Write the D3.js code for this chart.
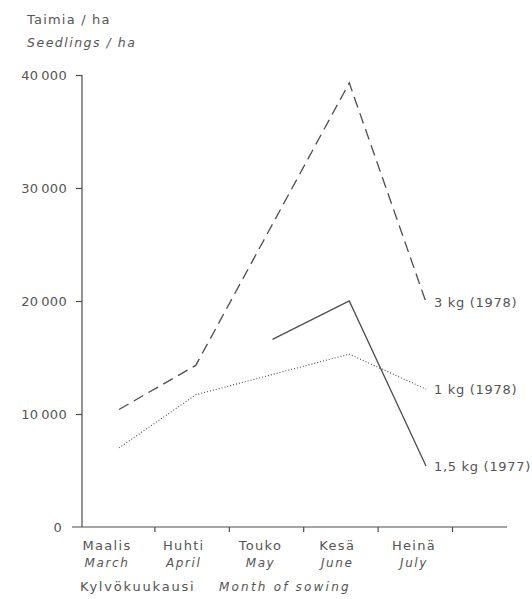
<!DOCTYPE html>
<html>
<head>
<meta charset="utf-8">
<script src="https://cdn.jsdelivr.net/npm/d3@7"></script>
<style>
  body { margin: 0; background: #fff; }
  svg text { font-family: "DejaVu Sans", sans-serif; fill: #555; }
</style>
</head>
<body>
<svg id="chart"></svg>
<script>
// Seedlings per hectare by month of sowing, three seed amounts

const monthsFi = ["Maalis", "Huhti", "Touko", "Kesä", "Heinä"];
const monthsEn = ["March", "April", "May", "June", "July"];
const yTicks = [0, 10000, 20000, 30000, 40000];

// null = not measured that month
const kg3_1978 = [10400, 14300, null, 39300, 19900];
const kg1_1978 = [7000, 11700, null, 15300, 12200];
const kg15_1977 = [null, null, 16600, 20000, 5400];

const series = [
    { label: "3 kg (1978)", values: kg3_1978, dash: "11,6" },
    { label: "1 kg (1978)", values: kg1_1978, dash: "1,2" },
    { label: "1,5 kg (1977)", values: kg15_1977, dash: null }
];

const width = 532, height = 599;
const ink = "#4d4d4d";

const svg = d3.select("#chart")
    .attr("width", width)
    .attr("height", height);

const y = d3.scaleLinear().domain([0, 40000]).range([527, 75]);
const x = d3.scalePoint().domain(monthsEn).range([119, 426]);
// month boundaries for the axis ticks
const xBand = d3.scaleLinear().domain([0, 5]).range([80, 452]);

const fmt = v => v === 0 ? "0" : d3.format(",")(v).replace(",", "\u2009");

// y axis
const yAxis = svg.append("g")
    .attr("transform", "translate(82,0)")
    .call(d3.axisLeft(y).tickValues(yTicks).tickFormat(fmt).tickSize(6).tickPadding(9));
yAxis.select(".domain").attr("d", `M0,${y(40000)}V${y(0)}`);
yAxis.selectAll("line, path").attr("stroke", ink).attr("stroke-width", 1.2);
yAxis.selectAll("text")
    .style("font-size", "13px")
    .attr("fill", "#5a5a5a")
    .attr("letter-spacing", "0.3px");
yAxis.selectAll(".tick").filter(d => d === 0).select("text").attr("x", -20);
yAxis.selectAll(".tick").filter(d => d === 0).select("line").remove();

// x axis
const xAxis = svg.append("g")
    .attr("transform", `translate(0,${y(0)})`)
    .call(d3.axisBottom(xBand).tickValues([1, 2, 3, 4, 5]).tickFormat("").tickSize(5));
xAxis.select(".domain").attr("d", "M72,0H507");
xAxis.selectAll("line, path").attr("stroke", ink).attr("stroke-width", 1.2);

// month labels
svg.append("g").selectAll("text")
    .data(monthsFi)
    .join("text")
    .attr("x", (d, i) => x(monthsEn[i]) - 12)
    .attr("y", 550)
    .attr("text-anchor", "middle")
    .attr("letter-spacing", "1.3px")
    .style("font-size", "13px")
    .text(d => d);

svg.append("g").selectAll("text")
    .data(monthsEn)
    .join("text")
    .attr("x", d => x(d) - 12)
    .attr("y", 567)
    .attr("text-anchor", "middle")
    .attr("letter-spacing", "1.6px")
    .style("font-size", "12px")
    .style("font-style", "italic")
    .text(d => d);

// lines
const line = d3.line()
    .x(d => x(d.month))
    .y(d => y(d.value));

series.forEach(s => {
    const pts = s.values
        .map((v, i) => ({ month: monthsEn[i], value: v }))
        .filter(d => d.value !== null);

    svg.append("path")
        .datum(pts)
        .attr("d", line)
        .attr("fill", "none")
        .attr("stroke", ink)
        .attr("stroke-width", s.dash === "1,2" ? 1.1 : 1.3)
        .attr("stroke-dasharray", s.dash);

    const last = pts[pts.length - 1];
    svg.append("text")
        .attr("x", x(last.month) + 8)
        .attr("y", y(last.value))
        .attr("dy", "0.35em")
        .attr("letter-spacing", "0.7px")
        .style("font-size", "13px")
        .text(s.label);
});

// titles
svg.append("text")
    .attr("x", 27).attr("y", 24)
    .attr("letter-spacing", "1.2px")
    .style("font-size", "13px")
    .text("Taimia / ha");

svg.append("text")
    .attr("x", 27).attr("y", 47)
    .attr("letter-spacing", "1.5px")
    .style("font-size", "12.5px")
    .style("font-style", "italic")
    .text("Seedlings / ha");

svg.append("text")
    .attr("x", 80).attr("y", 591)
    .attr("letter-spacing", "1.8px")
    .style("font-size", "13px")
    .text("Kylvökuukausi");

svg.append("text")
    .attr("x", 219).attr("y", 591)
    .attr("letter-spacing", "2.2px")
    .style("font-size", "12px")
    .style("font-style", "italic")
    .text("Month of sowing");
</script>
</body>
</html>
